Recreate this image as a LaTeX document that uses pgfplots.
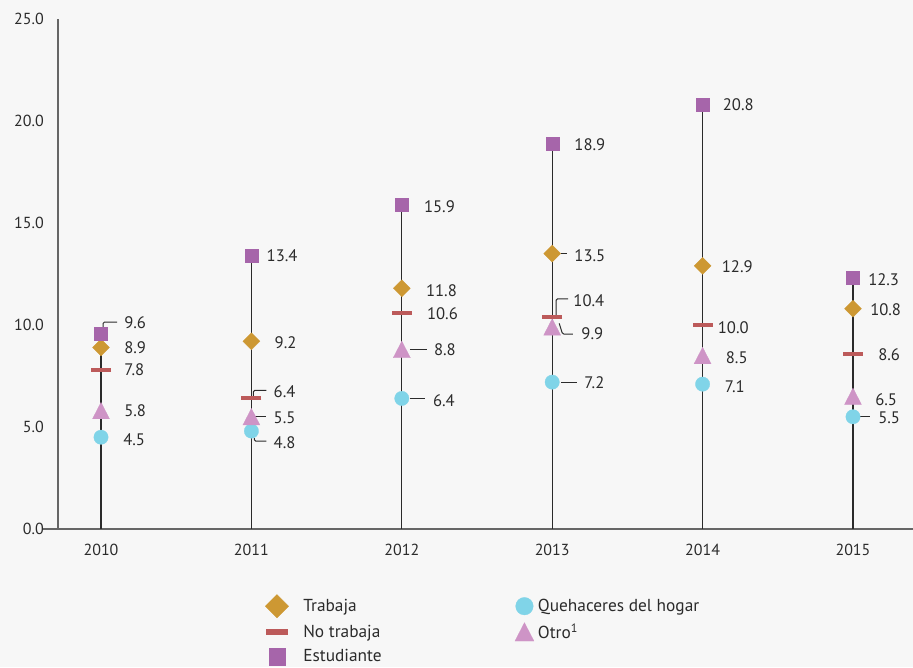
\documentclass[border=0pt]{standalone}
\usepackage{pgfplots}
\pgfplotsset{compat=1.18}
\usepackage{fontspec}
\setmainfont{PT Sans}
\definecolor{bg}{HTML}{F7F7F7}
\definecolor{txt}{HTML}{2B2B2B}
\definecolor{axgray}{HTML}{666666}
\definecolor{stem}{HTML}{2A2A2A}
\definecolor{cgold}{HTML}{CD9833}
\definecolor{cred}{HTML}{BC5A5A}
\definecolor{cpurple}{HTML}{A665AA}
\definecolor{ccyan}{HTML}{80D4E8}
\definecolor{cpink}{HTML}{CE94C6}
\newcommand{\lab}[5]{\node[anchor=west,inner sep=0pt,font=\fontsize{12.5}{14}\selectfont,text=txt,xshift=#3*0.75pt,yshift=#4*0.75pt] at (axis cs:#1,#2) {#5};}
\newcommand{\ldr}[3]{\draw[line width=0.75pt,color=txt,rounded corners=1pt] (axis cs:#1,#2) #3;}
\pgfplotsset{
  mdiamond/.style={only marks, mark=square*, mark size=4.5pt, color=cgold, mark options={rotate=45, line width=0.2pt}},
  mdash/.style={only marks, mark=-, mark size=7.5pt, color=cred, mark options={line width=3pt}},
  msquare/.style={only marks, mark=square*, mark size=4.875pt, color=cpurple, mark options={line width=0.2pt}},
  mcircle/.style={only marks, mark=*, mark size=5.4pt, color=ccyan, mark options={line width=0.2pt}},
  mtri/.style={only marks, mark=triangle*, mark size=7.36pt, color=cpink, mark options={yshift=-2pt, yscale=1.12, line width=0.2pt}},
}
\begin{document}
\begin{tikzpicture}
\path[fill=bg, use as bounding box] (0,0) rectangle (684.75pt,500.25pt);
\begin{axis}[
  at={(43.5pt,103.5pt)}, anchor=south west,
  scale only axis, width=641.25pt, height=382.5pt,
  xmin=-0.286, xmax=5.399, ymin=0, ymax=25,
  axis x line*=bottom, axis y line*=left,
  axis line style={-, color=axgray, line width=1.1pt},
  clip=false,
  xtick={0,1,2,3,4,5},
  xticklabels={2010,2011,2012,2013,2014,2015},
  ytick={0,5,10,15,20,25},
  major tick length=0pt,
  tick style={draw=none},
  /pgf/number format/.cd, fixed, fixed zerofill, precision=1, assume math mode=true,
  /pgfplots/.cd,
  yticklabel style={font=\fontsize{12}{14}\selectfont, text=txt, inner sep=0pt, anchor=east, xshift=-10.5pt},
  xticklabel style={font=\fontsize{12}{14}\selectfont, text=txt, inner sep=0pt, anchor=north, yshift=-11pt},
  legend columns=2,
  legend cell align=left,
  legend style={at={(0.2421,-0.1279)}, anchor=north west, draw=none, fill=none,
    font=\fontsize{13}{15}\selectfont, text=txt, inner sep=0pt, row sep=2.6pt,
    /tikz/column 1/.style={column sep=9pt},
    /tikz/column 2/.style={column sep=98pt},
    /tikz/column 3/.style={column sep=1pt}},
]
% extension of x axis to the left
\draw[color=axgray, line width=1.1pt] (axis cs:-0.386,0) -- (axis cs:-0.286,0);
% stems (to the Estudiante value, the largest)
\addplot[ycomb, no marks, color=stem, line width=0.85pt, forget plot] coordinates {
  (0,9.6) (1,13.4) (2,15.9) (3,18.9) (4,20.8) (5,12.3)};
% leader lines
\ldr{0}{9.6}{++(1.5pt,3.75pt) -- ++(0pt,4.5pt) -- ++(10.5pt,0pt)}
\ldr{1}{6.4}{++(1.5pt,0.75pt) -- ++(0pt,5.25pt) -- ++(9.75pt,0pt)}
\ldr{1}{5.5}{++(2.25pt,0pt) -- ++(9pt,0pt)}
\ldr{1}{4.8}{++(2.25pt,-5.25pt) -- ++(0pt,-2.25pt) -- ++(9pt,0pt)}
\ldr{2}{8.8}{++(6pt,0pt) -- ++(12.75pt,0pt)}
\ldr{2}{6.4}{++(6pt,0pt) -- ++(11.25pt,0pt)}
\ldr{3}{13.5}{++(6.75pt,0pt) -- ++(4.5pt,0pt)}
\ldr{3}{10.4}{++(3pt,0.75pt) -- ++(0pt,12.75pt) -- ++(9pt,0pt)}
\ldr{3}{9.9}{++(5.25pt,2.75pt) -- ++(2.5pt,-8pt) -- ++(7.75pt,0pt)}
\ldr{3}{7.2}{++(6.75pt,0pt) -- ++(12pt,0pt)}
\ldr{5}{5.5}{++(5.25pt,0pt) -- ++(7.5pt,0pt)}
% series
\addplot[mcircle, forget plot] coordinates {(0,4.5) (1,4.8) (2,6.4) (3,7.2) (4,7.1) (5,5.5)};
\addplot[mtri, forget plot] coordinates {(0,5.8) (1,5.5) (2,8.8) (3,9.9) (4,8.5) (5,6.5)};
\addplot[mdash, forget plot] coordinates {(0,7.8) (1,6.4) (2,10.6) (3,10.4) (4,10.0) (5,8.6)};
\addplot[mdiamond, forget plot] coordinates {(0,8.9) (1,9.2) (2,11.8) (3,13.5) (4,12.9) (5,10.8)};
\addplot[msquare, forget plot] coordinates {(0,9.6) (1,13.4) (2,15.9) (3,18.9) (4,20.8) (5,12.3)};
% legend
\addlegendimage{mdiamond, mark size=6.2pt}\addlegendentry{Trabaja}
\addlegendimage{mcircle, mark size=6.6pt}\addlegendentry{Quehaceres del hogar}
\addlegendimage{mdash, mark size=8.25pt, mark options={line width=4.25pt}}\addlegendentry{No trabaja}
\addlegendimage{mtri, mark size=8.2pt}\addlegendentry{Otro\textsuperscript{1}}
\addlegendimage{msquare, mark size=6.2pt}\addlegendentry{Estudiante}
% value labels
\lab{0}{9.6}{23}{10}{9.6}
\lab{0}{8.9}{23}{0}{8.9}
\lab{0}{7.8}{23}{0}{7.8}
\lab{0}{5.8}{23}{0}{5.8}
\lab{0}{4.5}{22}{-2}{4.5}
\lab{1}{13.4}{15}{0}{13.4}
\lab{1}{9.2}{23}{-1}{9.2}
\lab{1}{6.4}{22}{7}{6.4}
\lab{1}{5.5}{22}{-1}{5.5}
\lab{1}{4.8}{22}{-12}{4.8}
\lab{2}{15.9}{22}{-2}{15.9}
\lab{2}{11.8}{24}{-2}{11.8}
\lab{2}{10.6}{25}{-1}{10.6}
\lab{2}{8.8}{32}{0}{8.8}
\lab{2}{6.4}{31}{-2}{6.4}
\lab{3}{18.9}{22}{-1}{18.9}
\lab{3}{13.5}{22}{-2}{13.5}
\lab{3}{10.4}{21}{16}{10.4}
\lab{3}{9.9}{29}{-7}{9.9}
\lab{3}{7.2}{32}{-1}{7.2}
\lab{4}{20.8}{20}{0}{20.8}
\lab{4}{12.9}{19}{-1}{12.9}
\lab{4}{10.0}{15}{-3}{10.0}
\lab{4}{8.5}{23}{-2}{8.5}
\lab{4}{7.1}{22}{-3}{7.1}
\lab{5}{12.3}{15}{-2}{12.3}
\lab{5}{10.8}{17}{-1}{10.8}
\lab{5}{8.6}{25}{-1}{8.6}
\lab{5}{6.5}{22}{-3}{6.5}
\lab{5}{5.5}{25}{-1}{5.5}
\end{axis}
\end{tikzpicture}
\end{document}
